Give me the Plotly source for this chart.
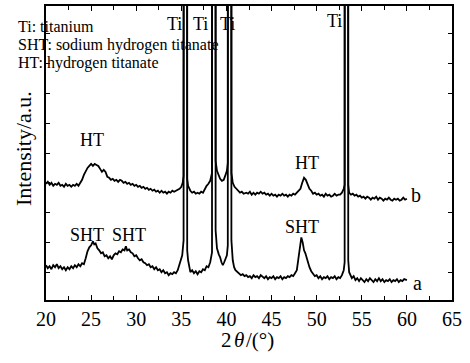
import plotly.graph_objects as go

# ---- data (2theta in degrees, intensity in arbitrary units) ----
x_b = [20.0, 20.2, 20.4, 20.6, 20.8, 21.0, 21.2, 21.4, 21.6, 21.8, 22.0, 22.2, 22.4, 22.6, 22.8, 23.0, 23.2, 23.4, 23.6, 23.8,
       24.0, 24.2, 24.4, 24.6, 24.8, 25.0, 25.2, 25.4, 25.6, 25.8, 26.0, 26.2, 26.4, 26.6, 26.8, 27.0, 27.2, 27.4, 27.6, 27.8,
       28.0, 28.2, 28.4, 28.6, 28.8, 29.0, 29.2, 29.4, 29.6, 29.8, 30.0, 30.2, 30.4, 30.6, 30.8, 31.0, 31.2, 31.4, 31.6, 31.8,
       32.0, 32.2, 32.4, 32.6, 32.8, 33.0, 33.2, 33.4, 33.6, 33.8, 34.0, 34.2, 34.4, 34.6, 34.8, 35.0, 35.15, 35.25, 35.28, 35.62,
       35.65, 35.75, 35.9, 36.0, 36.2, 36.4, 36.6, 36.8, 37.0, 37.2, 37.4, 37.6, 37.8, 38.0, 38.2, 38.4, 38.43, 38.77, 38.8, 38.95,
       39.1, 39.3, 39.5, 39.7, 39.9, 40.05, 40.15, 40.18, 40.52, 40.55, 40.7, 40.9, 41.1, 41.3, 41.5, 41.7, 41.9,
       42.2, 42.4, 42.6, 42.8, 43.0, 43.2, 43.4, 43.6, 43.8, 44.0, 44.2, 44.4, 44.6, 44.8, 45.0, 45.2, 45.4, 45.6, 45.8, 46.0,
       46.2, 46.4, 46.6, 46.8, 47.0, 47.2, 47.4, 47.6, 47.8, 48.0, 48.2, 48.4, 48.6, 48.8, 49.0, 49.2, 49.4, 49.6, 49.8, 50.0,
       50.2, 50.4, 50.6, 50.8, 51.0, 51.2, 51.4, 51.6, 51.8, 52.0, 52.2, 52.4, 52.6, 52.8, 53.0, 53.1, 53.13, 53.47, 53.5, 53.6,
       53.8, 54.0, 54.2, 54.4, 54.6, 54.8, 55.0, 55.2, 55.4, 55.6, 55.8, 56.0, 56.2, 56.4, 56.6, 56.8, 57.0, 57.2, 57.4, 57.6,
       57.8, 58.0, 58.2, 58.4, 58.6, 58.8, 59.0, 59.2, 59.4, 59.6, 59.8, 60.0]
y_b = [117, 119, 116, 118, 115, 117, 116, 118, 115, 116, 114, 117, 115, 116, 114, 116, 115, 117, 115, 118,
       121, 126, 130, 133, 135, 137, 135, 137, 136, 135, 132, 129, 131, 129, 124, 123, 121, 122, 120, 121,
       119, 121, 120, 118, 119, 117, 118, 116, 117, 115, 116, 114, 115, 113, 114, 112, 113, 111, 112, 110,
       111, 109, 110, 108, 110, 108, 109, 107, 109, 108, 110, 109, 110, 111, 112, 114, 118, 125, 1500, 1500,
       122, 115, 111, 110, 108, 109, 107, 108, 107, 109, 108, 112, 115, 117, 120, 128, 1500, 1500, 140, 130,
       126, 122, 120, 121, 126, 130, 138, 1500, 1500, 128, 118, 114, 112, 110, 108, 109, 107,
       108, 107, 109, 106, 108, 106, 108, 107, 109, 107, 108, 106, 107, 105, 107, 105, 106, 104, 106, 105,
       107, 105, 106, 104, 106, 105, 107, 106, 108, 110, 112, 118, 123, 121, 116, 112, 110, 107, 108, 106,
       107, 105, 106, 104, 107, 105, 106, 104, 105, 107, 105, 106, 106, 108, 112, 116, 1500, 1500, 116, 108,
       106, 107, 105, 106, 104, 105, 103, 104, 102, 104, 103, 101, 103, 102, 104, 101, 103, 102, 100, 102,
       101, 103, 101, 100, 102, 101, 102, 100, 101, 103, 101, 102]

x_a = [20.0, 20.2, 20.4, 20.6, 20.8, 21.0, 21.2, 21.4, 21.6, 21.8, 22.0, 22.2, 22.4, 22.6, 22.8, 23.0, 23.2, 23.4, 23.6, 23.8,
       24.0, 24.2, 24.4, 24.6, 24.8, 25.0, 25.2, 25.35, 25.5, 25.7, 25.9, 26.1, 26.3, 26.5, 26.7, 26.9, 27.1, 27.3, 27.5, 27.7,
       27.9, 28.1, 28.3, 28.5, 28.7, 28.85, 29.0, 29.2, 29.4, 29.6, 29.8, 30.0, 30.2, 30.4, 30.6, 30.8, 31.0, 31.2, 31.4, 31.6,
       31.8, 32.0, 32.2, 32.4, 32.6, 32.8, 33.0, 33.2, 33.4, 33.6, 33.8, 34.0, 34.2, 34.4, 34.6, 34.8, 34.95, 35.1, 35.25, 35.28,
       35.62, 35.65, 35.75, 35.9, 36.0, 36.2, 36.4, 36.6, 36.8, 37.0, 37.2, 37.4, 37.6, 37.8, 38.0, 38.2, 38.4, 38.43, 38.77, 38.8,
       38.95, 39.15, 39.3, 39.45, 39.6, 39.75, 39.9, 40.05, 40.15, 40.18, 40.52, 40.55, 40.7, 40.85, 41.0, 41.2, 41.4, 41.6, 41.8,
       42.0, 42.2, 42.4, 42.6, 42.8, 43.0, 43.2, 43.4, 43.6, 43.8, 44.0, 44.2, 44.4, 44.6, 44.8, 45.0, 45.2, 45.4, 45.6, 45.8,
       46.0, 46.2, 46.4, 46.6, 46.8, 47.0, 47.2, 47.4, 47.6, 47.8, 47.95, 48.1, 48.3, 48.45, 48.6, 48.75, 48.9, 49.05, 49.2, 49.4,
       49.6, 49.8, 50.0, 50.2, 50.4, 50.6, 50.8, 51.0, 51.2, 51.4, 51.6, 51.8, 52.0, 52.2, 52.4, 52.6, 52.8, 53.0, 53.1, 53.13,
       53.47, 53.5, 53.6, 53.75, 53.9, 54.1, 54.3, 54.5, 54.7, 54.9, 55.1, 55.3, 55.5, 55.7, 55.9, 56.1, 56.3, 56.5, 56.7, 56.9,
       57.1, 57.3, 57.5, 57.7, 57.9, 58.1, 58.3, 58.5, 58.7, 58.9, 59.1, 59.3, 59.5, 59.7, 60.0]
y_a = [35, 32, 34, 31, 35, 33, 36, 32, 34, 31, 33, 30, 33, 31, 34, 32, 35, 33, 36, 34,
       37, 36, 42, 49, 53, 55, 59, 56, 57, 52, 50, 47, 48, 44, 45, 42, 44, 41, 45, 47,
       46, 49, 48, 51, 50, 54, 50, 51, 48, 47, 44, 45, 42, 40, 41, 38, 37, 35, 36, 33,
       34, 31, 33, 30, 31, 28, 30, 27, 28, 25, 27, 26, 28, 27, 30, 36, 43, 45, 60, 1500,
       1500, 50, 40, 32, 28, 30, 27, 29, 26, 29, 28, 31, 30, 34, 33, 38, 48, 1500, 1500, 70,
       52, 46, 43, 38, 35, 38, 42, 45, 55, 1500, 1500, 60, 40, 33, 30, 28, 26, 25, 26,
       24, 25, 23, 24, 22, 25, 23, 24, 22, 25, 23, 22, 24, 21, 23, 22, 24, 21, 23, 22,
       24, 21, 23, 22, 24, 23, 25, 24, 27, 30, 40, 52, 63, 58, 50, 47, 42, 38, 33, 29,
       26, 24, 25, 22, 24, 21, 23, 22, 24, 21, 23, 22, 24, 21, 23, 22, 25, 30, 38, 1500,
       1500, 40, 28, 24, 22, 24, 20, 22, 19, 22, 20, 18, 21, 19, 22, 20, 18, 21, 19, 22,
       19, 21, 18, 20, 19, 21, 18, 20, 19, 21, 18, 20, 19, 21, 20]

x_ticks = [20, 25, 30, 35, 40, 45, 50, 55, 60, 65]
x_tick_labels = ["20", "25", "30", "35", "40", "45", "50", "55", "60", "65"]

FONT = "Times New Roman, Liberation Serif, serif"

# pixel -> paper helpers for text placement (plot area: x 46..452, y 4..300)
def px_x(px):
    return (px - 46) / 406.0

def px_y(py):
    return (300 - py) / 296.0

fig = go.Figure()
for xs, ys in ((x_a, y_a), (x_b, y_b)):
    fig.add_trace(go.Scatter(x=xs, y=ys, mode="lines",
                             line=dict(color="black", width=1.8),
                             showlegend=False, hoverinfo="skip"))

ann = []
def add_text(txt, px, py, size, xanchor="center", angle=0, style="normal"):
    ann.append(dict(x=px_x(px), y=px_y(py), xref="paper", yref="paper", text=txt,
                    showarrow=False, xanchor=xanchor, yanchor="middle", borderpad=0,
                    textangle=angle,
                    font=dict(family=FONT, size=size, color="black", style=style)))

add_text("Ti: titanium", 17, 25, 16, xanchor="left")
add_text("SHT: sodium hydrogen titanate", 17, 43, 16, xanchor="left")
add_text("HT: hydrogen titanate", 17, 61, 16, xanchor="left")
add_text("Ti", 174, 22, 18)
add_text("Ti", 200, 22, 18)
add_text("Ti", 227, 22, 18)
add_text("Ti", 334, 19, 18)
add_text("HT", 92, 139, 18)
add_text("HT", 307, 162, 18)
add_text("SHT", 87, 235, 18)
add_text("SHT", 129, 235, 18)
add_text("SHT", 302, 226, 18)
add_text("b", 416, 194, 20)
add_text("a", 417, 283, 20)
add_text("Intensity/a.u.", 23, 148, 22, angle=-90)
# x-axis title "2θ/(°)" with italic theta
add_text("2", 233, 340, 21, xanchor="right")
add_text("θ", 238.5, 340, 21, style="italic")
add_text("/(°)", 244.5, 340, 21, xanchor="left")

fig.update_layout(
    width=470, height=363,
    margin=dict(l=46, r=18, t=4, b=63),
    paper_bgcolor="white", plot_bgcolor="white",
    annotations=ann,
    font=dict(family=FONT, color="black", size=20),
)
fig.update_xaxes(range=[20, 65], tickvals=x_ticks, ticktext=x_tick_labels,
                 ticks="inside", ticklen=5, tickwidth=1.2, tickcolor="black",
                 minor=dict(dtick=2.5, tick0=20, ticks="inside", ticklen=4, tickwidth=1.2, tickcolor="black"),
                 showline=True, linecolor="black", linewidth=1.5, mirror="ticks",
                 showgrid=False, zeroline=False,
                 tickfont=dict(family=FONT, size=20, color="black"))
fig.update_yaxes(range=[0, 296], tick0=28, dtick=30,
                 ticks="inside", ticklen=4, tickwidth=1.2, tickcolor="black",
                 showticklabels=False,
                 showline=True, linecolor="black", linewidth=1.5, mirror="ticks",
                 showgrid=False, zeroline=False)

fig.write_html("out.html", config={"displayModeBar": False},
               post_script="document.body.style.margin='0';document.body.style.padding='0';")
